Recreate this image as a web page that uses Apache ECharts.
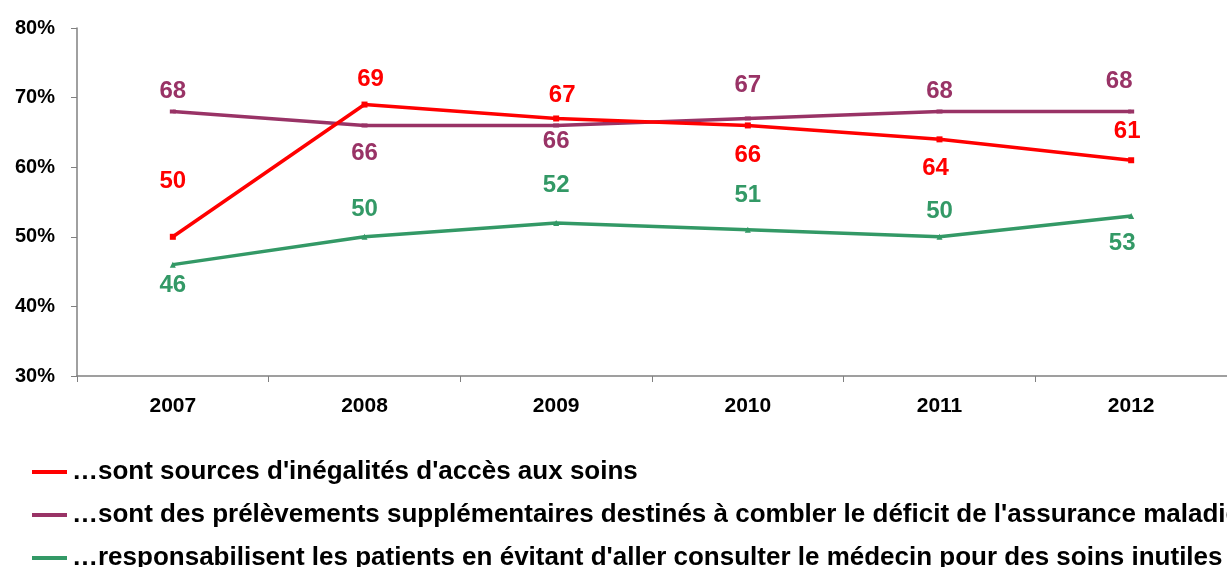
<!DOCTYPE html>
<html><head><meta charset="utf-8">
<script src="https://cdn.jsdelivr.net/npm/echarts@6/dist/echarts.min.js"></script>
<style>html,body{margin:0;padding:0;background:#fff}#c{width:1227px;height:567px}</style>
</head><body><div id="c"></div>
<script>
const categories = ['2007','2008','2009','2010','2011','2012'];
const seriesNames = [
  "\u2026sont sources d'inégalités d'accès aux soins",
  "\u2026sont des prélèvements supplémentaires destinés à combler le déficit de l'assurance maladie",
  "\u2026responsabilisent les patients en évitant d'aller consulter le médecin pour des soins inutiles"
];
const inegalites = [50, 69, 67, 66, 64, 61];
const prelevements = [68, 66, 66, 67, 68, 68];
const responsabilisent = [46, 50, 52, 51, 50, 53];

// label placement (style only): [dx, dy] from the point
const labelOffsets = [
  [[0,-55],[6,-25],[6,-23],[0,30],[-4,29],[-4,-29]],
  [[0,-20],[0,28],[0,16],[0,-33],[0,-20],[-12,-30]],
  [[0,21],[0,-27],[0,-38],[0,-34],[0,-25],[-9,27]]
];
const colors = ['#FF0000', '#993366', '#339966'];
const symbols = ['rect', 'rect', 'triangle'];
const symbolSizes = [6, [6,4], 6];
const values = [inegalites, prelevements, responsabilisent];

const font = 'Liberation Sans, Arial, sans-serif';
const chart = echarts.init(document.getElementById('c'));
chart.setOption({
  animation: false,
  backgroundColor: '#fff',
  grid: { left: 77, right: -9, top: 28, bottom: 191, containLabel: false },
  legend: {
    orient: 'vertical', left: 32, top: 459, height: 140, itemGap: 17, padding: 0,
    icon: 'rect', itemWidth: 35, itemHeight: 4,
    textStyle: { fontFamily: font, fontWeight: 'bold', fontSize: 26, color: '#000' },
    data: seriesNames
  },
  xAxis: {
    type: 'category', data: categories, boundaryGap: true,
    axisLine: { lineStyle: { color: '#808080', width: 1.5 } },
    axisTick: { show: true, length: 6, inside: false, lineStyle: { color: '#808080' } },
    axisLabel: { fontFamily: font, fontWeight: 'bold', fontSize: 21, color: '#000', margin: 20 }
  },
  yAxis: {
    type: 'value', min: 30, max: 80, interval: 10,
    axisLine: { show: true, lineStyle: { color: '#808080', width: 1.5 } },
    axisTick: { show: true, length: 6, lineStyle: { color: '#808080' } },
    splitLine: { show: false },
    axisLabel: { formatter: '{value}%', fontFamily: font, fontWeight: 'bold', fontSize: 20, color: '#000', margin: 22 }
  },
  series: values.map((vals, si) => ({
    name: seriesNames[si], type: 'line',
    data: vals.map((v, i) => ({
      value: v,
      label: { offset: labelOffsets[si][i] }
    })),
    color: colors[si],
    lineStyle: { width: 3.5, color: colors[si] },
    symbol: symbols[si], symbolSize: symbolSizes[si], showAllSymbol: true,
    itemStyle: { color: colors[si] },
    label: {
      show: true, position: 'inside', color: colors[si],
      fontFamily: font, fontWeight: 'bold', fontSize: 24
    },
    z: 3 - si
  }))
});
</script></body></html>
